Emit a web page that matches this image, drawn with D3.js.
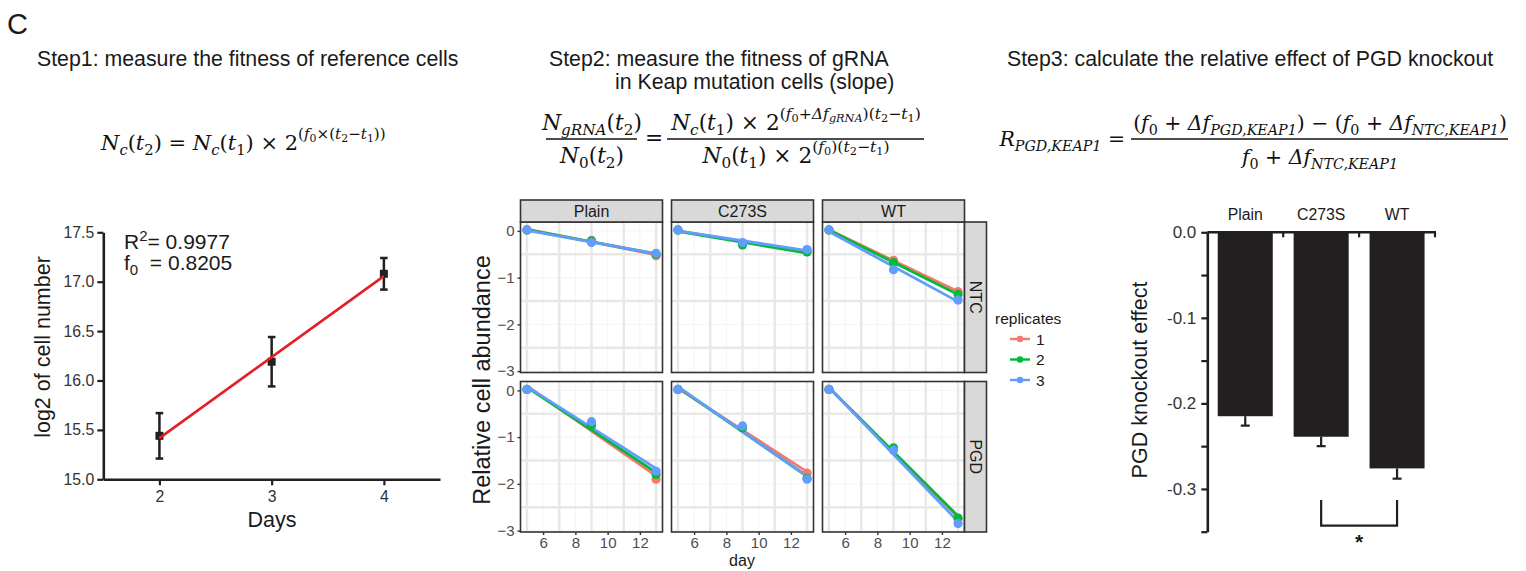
<!DOCTYPE html>
<html>
<head>
<meta charset="utf-8">
<script src="https://d3js.org/d3.v7.min.js"></script>
<style>
  body { margin: 0; background: #fff; }
  svg { display: block; }
</style>
</head>
<body>
<div id="fig"></div>
<script>
// ---- data ----
var growthDays = [2, 3, 4];
var growthMean = [15.44, 16.19, 17.08];
var growthErr = [0.23, 0.25, 0.16];

var days = [5, 9, 13];
var variants = ['Plain', 'C273S', 'WT'];
var guides = ['NTC', 'PGD'];
var replicates = ['1', '2', '3'];
// each row = one replicate, values at day 5, 9, 13
var ntcPlain = [[0.02, -0.20, -0.53], [0.02, -0.22, -0.50], [0.02, -0.25, -0.48]];
var ntcC273S = [[0.02, -0.27, -0.43], [0.02, -0.30, -0.45], [0.02, -0.25, -0.40]];
var ntcWT    = [[0.02, -0.63, -1.30], [0.02, -0.68, -1.36], [0.02, -0.83, -1.48]];
var pgdPlain = [[0.02, -0.72, -1.90], [0.02, -0.75, -1.80], [0.02, -0.67, -1.73]];
var pgdC273S = [[0.02, -0.80, -1.77], [0.02, -0.80, -1.88], [0.02, -0.76, -1.90]];
var pgdWT    = [[0.02, -1.25, -2.75], [0.02, -1.23, -2.73], [0.02, -1.28, -2.85]];

var koEffect = [-0.215, -0.239, -0.276];
var koErr = [0.011, 0.011, 0.012];

var abundance = {
  NTC: { Plain: ntcPlain, C273S: ntcC273S, WT: ntcWT },
  PGD: { Plain: pgdPlain, C273S: pgdC273S, WT: pgdWT }
};
var repColors = ['#F8766D', '#00BA38', '#619CFF'];

var SANS = '"Liberation Sans", Arial, sans-serif';
var MATH = '"DejaVu Serif", "Liberation Serif", serif';
var INK = '#231f20';

var svg = d3.select('#fig').append('svg')
  .attr('width', 1526)
  .attr('height', 571);

// ---- simple math text with sub / superscripts ----
var LEVELS = {
  n: { scale: 1, shift: 0 },
  sub: { scale: 0.7, shift: 0.25 },
  sup: { scale: 0.72, shift: -0.5 },
  supsub: { scale: 0.52, shift: -0.38 }
};

function buildMath(x, y, parts, size, anchor) {
  var t = svg.append('text')
    .attr('x', x).attr('y', y)
    .attr('font-family', MATH)
    .attr('font-size', size)
    .attr('fill', '#111')
    .attr('text-anchor', anchor || 'start');
  var cur = 0;
  parts.forEach(function(p) {
    var lv = LEVELS[p.l || 'n'];
    var shift = lv.shift * size;
    t.append('tspan')
      .attr('dy', shift - cur)
      .attr('font-size', size * lv.scale)
      .attr('font-style', p.i ? 'italic' : 'normal')
      .text(p.t.replace(/ /g, '\u00a0'));
    cur = shift;
  });
  return t;
}

function fitSize(parts, width) {
  var t = buildMath(0, 0, parts, 20);
  var w = t.node().getComputedTextLength();
  t.remove();
  return 20 * width / w;
}

function I(t, l) { return { t: t, i: true, l: l }; }
function R(t, l) { return { t: t, i: false, l: l }; }

function fracBar(x1, x2, y) {
  svg.append('line').attr('x1', x1).attr('x2', x2).attr('y1', y).attr('y2', y)
    .attr('stroke', '#111').attr('stroke-width', 1.3);
}

function label(x, y, txt, size, anchor) {
  return svg.append('text').attr('x', x).attr('y', y)
    .attr('font-family', SANS).attr('font-size', size)
    .attr('fill', '#1a1a1a').attr('text-anchor', anchor || 'start')
    .text(txt);
}

// ---- titles ----
label(7, 34, 'C', 29);
label(37, 66, 'Step1: measure the fitness of reference cells', 21.3);
label(549, 66, 'Step2: measure the fitness of gRNA', 21.3);
label(615, 89, 'in Keap mutation cells (slope)', 21.3);
label(1007, 66, 'Step3: calculate the relative effect of PGD knockout', 21.3);

// ---- formulas ----
var f1 = [I('N'), I('c', 'sub'), R('('), I('t'), R('2', 'sub'), R(') = '), I('N'), I('c', 'sub'),
  R('('), I('t'), R('1', 'sub'), R(') × 2'), R('(', 'sup'), I('f', 'sup'), R('0', 'supsub'),
  R('×(', 'sup'), I('t', 'sup'), R('2', 'supsub'), R('−', 'sup'), I('t', 'sup'), R('1', 'supsub'), R('))', 'sup')];
buildMath(101, 150, f1, fitSize(f1, 285));

var f2ln = [I('N'), I('gRNA', 'sub'), R('('), I('t'), R('2', 'sub'), R(')')];
var f2ld = [I('N'), R('0', 'sub'), R('('), I('t'), R('2', 'sub'), R(')')];
var f2rn = [I('N'), I('c', 'sub'), R('('), I('t'), R('1', 'sub'), R(') × 2'), R('(', 'sup'), I('f', 'sup'),
  R('0', 'supsub'), R('+', 'sup'), I('Δf', 'sup'), I('gRNA', 'supsub'), R(')(', 'sup'), I('t', 'sup'),
  R('2', 'supsub'), R('−', 'sup'), I('t', 'sup'), R('1', 'supsub'), R(')', 'sup')];
var f2rd = [I('N'), R('0', 'sub'), R('('), I('t'), R('1', 'sub'), R(') × 2'), R('(', 'sup'), I('f', 'sup'),
  R('0', 'supsub'), R(')(', 'sup'), I('t', 'sup'), R('2', 'supsub'), R('−', 'sup'), I('t', 'sup'),
  R('1', 'supsub'), R(')', 'sup')];
var s2 = fitSize(f2rn, 250);
buildMath(592, 130, f2ln, s2, 'middle');
buildMath(592, 163, f2ld, s2, 'middle');
fracBar(546, 637, 139);
buildMath(654, 145, [R('=')], s2, 'middle');
buildMath(796, 130, f2rn, s2, 'middle');
buildMath(796, 163, f2rd, s2, 'middle');
fracBar(667, 924, 139);

var f3l = [I('R'), I('PGD,KEAP1', 'sub'), R(' =')];
var f3n = [R('('), I('f'), R('0', 'sub'), R(' + '), I('Δf'), I('PGD,KEAP1', 'sub'), R(') − ('), I('f'),
  R('0', 'sub'), R(' + '), I('Δf'), I('NTC,KEAP1', 'sub'), R(')')];
var f3d = [I('f'), R('0', 'sub'), R(' + '), I('Δf'), I('NTC,KEAP1', 'sub')];
var s3 = fitSize(f3n, 374);
buildMath(1125, 146, f3l, s3, 'end');
buildMath(1320, 130, f3n, s3, 'middle');
buildMath(1320, 164, f3d, s3, 'middle');
fracBar(1131, 1508, 139);

// ---- panel 1: growth of reference cells ----
(function() {
  var x = d3.scaleLinear().domain([1.5, 4.5]).range([103.3, 440]);
  var y = d3.scaleLinear().domain([15, 17.5]).range([479.3, 232.3]);
  var g = svg.append('g');

  var yAxis = g.append('g').attr('transform', 'translate(' + x.range()[0] + ',0)')
    .call(d3.axisLeft(y).tickValues([15, 15.5, 16, 16.5, 17, 17.5]).tickFormat(d3.format('.1f'))
      .tickSize(6).tickSizeOuter(0).tickPadding(3));
  var xAxis = g.append('g').attr('transform', 'translate(0,' + y.range()[0] + ')')
    .call(d3.axisBottom(x).tickValues(growthDays).tickFormat(d3.format('d'))
      .tickSize(6).tickSizeOuter(0).tickPadding(5));
  [yAxis, xAxis].forEach(function(a) {
    a.select('.domain').attr('stroke', INK).attr('stroke-width', 2.6);
    a.selectAll('.tick line').attr('stroke', INK).attr('stroke-width', 2.2);
    a.selectAll('.tick text').attr('font-family', SANS).attr('font-size', 15.8).attr('fill', '#333');
  });

  // least-squares fit through means
  var mx = d3.mean(growthDays), my = d3.mean(growthMean);
  var slope = d3.sum(growthDays, function(d, i) { return (d - mx) * (growthMean[i] - my); }) /
    d3.sum(growthDays, function(d) { return (d - mx) * (d - mx); });
  var icpt = my - slope * mx;

  var pts = growthDays.map(function(d, i) { return { d: d, m: growthMean[i], e: growthErr[i] }; });
  var eb = g.selectAll('.eb').data(pts).enter().append('g');
  eb.append('line').attr('x1', function(p) { return x(p.d); }).attr('x2', function(p) { return x(p.d); })
    .attr('y1', function(p) { return y(p.m - p.e); }).attr('y2', function(p) { return y(p.m + p.e); })
    .attr('stroke', INK).attr('stroke-width', 2.5);
  [-1, 1].forEach(function(s) {
    eb.append('line').attr('x1', function(p) { return x(p.d) - 3.8; }).attr('x2', function(p) { return x(p.d) + 3.8; })
      .attr('y1', function(p) { return y(p.m + s * p.e); }).attr('y2', function(p) { return y(p.m + s * p.e); })
      .attr('stroke', INK).attr('stroke-width', 2.5);
  });
  eb.append('rect').attr('x', function(p) { return x(p.d) - 4; }).attr('y', function(p) { return y(p.m) - 4; })
    .attr('width', 8).attr('height', 8).attr('fill', INK);

  g.append('line')
    .attr('x1', x(2)).attr('y1', y(icpt + slope * 2))
    .attr('x2', x(4)).attr('y2', y(icpt + slope * 4))
    .attr('stroke', '#e31e24').attr('stroke-width', 2.6);

  var t1 = g.append('text').attr('x', 124).attr('y', 249).attr('font-family', SANS).attr('font-size', 21).attr('fill', '#1a1a1a');
  t1.append('tspan').text('R');
  t1.append('tspan').attr('dy', -8).attr('font-size', 15).text('2');
  t1.append('tspan').attr('dy', 8).text('= 0.9977');
  var t2 = g.append('text').attr('x', 124).attr('y', 270).attr('font-family', SANS).attr('font-size', 21).attr('fill', '#1a1a1a');
  t2.append('tspan').text('f');
  t2.append('tspan').attr('dy', 5).attr('font-size', 15).text('0');
  t2.append('tspan').attr('dy', -5).text('\u00a0 = 0.8205');

  label(272, 527, 'Days', 21.5, 'middle');
  label(0, 0, 'log2 of cell number', 21.5, 'middle')
    .attr('transform', 'translate(50,347) rotate(-90)');
})();

// ---- panel 2: faceted relative abundance ----
(function() {
  var pw = 142, ph = 150.5;
  var colX = function(c) { return 520.5 + c * 151; };
  var rowY = function(r) { return 222 + r * 159.5; };
  var x = d3.scaleLinear().domain([4.6, 13.4]).range([0, pw]);
  var y = d3.scaleLinear().domain([-3.03, 0.19]).range([ph, 0]);
  var fmt = function(d) { return d3.format('d')(d).replace('-', '\u2212'); };

  guides.forEach(function(guide, r) {
    variants.forEach(function(variant, c) {
      var g = svg.append('g').attr('transform', 'translate(' + colX(c) + ',' + rowY(r) + ')');
      g.append('rect').attr('width', pw).attr('height', ph).attr('fill', '#fff');
      // grid
      [6, 8, 10, 12].forEach(function(v) {
        g.append('line').attr('x1', x(v)).attr('x2', x(v)).attr('y1', 0).attr('y2', ph)
          .attr('stroke', '#f4f4f4').attr('stroke-width', 1);
      });
      [0, -1, -2, -3].forEach(function(v) {
        g.append('line').attr('y1', y(v)).attr('y2', y(v)).attr('x1', 0).attr('x2', pw)
          .attr('stroke', '#f4f4f4').attr('stroke-width', 1);
      });
      [5, 7, 9, 11, 13].forEach(function(v) {
        g.append('line').attr('x1', x(v)).attr('x2', x(v)).attr('y1', 0).attr('y2', ph)
          .attr('stroke', '#e8e8e8').attr('stroke-width', 2.5);
      });
      [-0.5, -1.5, -2.5].forEach(function(v) {
        g.append('line').attr('y1', y(v)).attr('y2', y(v)).attr('x1', 0).attr('x2', pw)
          .attr('stroke', '#e8e8e8').attr('stroke-width', 2.5);
      });

      var reps = abundance[guide][variant];
      reps.forEach(function(vals, k) {
        var mx = d3.mean(days), my = d3.mean(vals);
        var slope = d3.sum(days, function(d, i) { return (d - mx) * (vals[i] - my); }) /
          d3.sum(days, function(d) { return (d - mx) * (d - mx); });
        var icpt = my - slope * mx;
        g.append('line')
          .attr('x1', x(days[0])).attr('y1', y(icpt + slope * days[0]))
          .attr('x2', x(days[2])).attr('y2', y(icpt + slope * days[2]))
          .attr('stroke', repColors[k]).attr('stroke-width', 2.8);
      });
      reps.forEach(function(vals, k) {
        g.selectAll('.p' + k).data(vals).enter().append('circle')
          .attr('cx', function(v, i) { return x(days[i]); })
          .attr('cy', function(v) { return y(v); })
          .attr('r', 4.6)
          .attr('fill', repColors[k]);
      });
      g.append('rect').attr('width', pw).attr('height', ph).attr('fill', 'none')
        .attr('stroke', '#333').attr('stroke-width', 1.6);

      if (c === 0) {
        var ya = g.append('g').call(d3.axisLeft(y).tickValues([0, -1, -2, -3]).tickFormat(fmt)
          .tickSize(3).tickSizeOuter(0).tickPadding(3));
        ya.select('.domain').remove();
        ya.selectAll('.tick line').attr('stroke', '#333').attr('stroke-width', 1.4);
        ya.selectAll('.tick text').attr('font-family', SANS).attr('font-size', 15).attr('fill', '#4d4d4d');
      }
      if (r === 1) {
        var xa = g.append('g').attr('transform', 'translate(0,' + ph + ')')
          .call(d3.axisBottom(x).tickValues([6, 8, 10, 12]).tickFormat(d3.format('d'))
            .tickSize(3).tickSizeOuter(0).tickPadding(2));
        xa.select('.domain').remove();
        xa.selectAll('.tick line').attr('stroke', '#333').attr('stroke-width', 1.4);
        xa.selectAll('.tick text').attr('font-family', SANS).attr('font-size', 15).attr('fill', '#4d4d4d');
      }
      if (r === 0) {
        g.append('rect').attr('y', -22).attr('width', pw).attr('height', 22)
          .attr('fill', '#d9d9d9').attr('stroke', '#333').attr('stroke-width', 1.6);
        g.append('text').attr('x', pw / 2).attr('y', -5.5).attr('text-anchor', 'middle')
          .attr('font-family', SANS).attr('font-size', 16).attr('fill', '#1a1a1a').text(variant);
      }
      if (c === 2) {
        g.append('rect').attr('x', pw).attr('width', 22).attr('height', ph)
          .attr('fill', '#d9d9d9').attr('stroke', '#333').attr('stroke-width', 1.6);
        g.append('text').attr('text-anchor', 'middle')
          .attr('transform', 'translate(' + (pw + 5.5) + ',' + (ph / 2) + ') rotate(90)')
          .attr('font-family', SANS).attr('font-size', 16).attr('fill', '#1a1a1a').text(guide);
      }
    });
  });

  label(742, 566, 'day', 16, 'middle');
  label(0, 0, 'Relative cell abundance', 23.5, 'middle')
    .attr('transform', 'translate(490,380) rotate(-90)');

  // legend
  label(995, 324, 'replicates', 15.5);
  replicates.forEach(function(rep, k) {
    var ly = 339 + k * 20.5;
    svg.append('line').attr('x1', 1010).attr('x2', 1030).attr('y1', ly).attr('y2', ly)
      .attr('stroke', repColors[k]).attr('stroke-width', 2.4);
    svg.append('circle').attr('cx', 1020).attr('cy', ly).attr('r', 3.3).attr('fill', repColors[k]);
    label(1036, ly + 5.5, rep, 15.5);
  });
})();

// ---- panel 3: PGD knockout effect ----
(function() {
  var x = d3.scaleBand().domain(variants).range([1207.3, 1435]).paddingInner(0.275).paddingOuter(0.1375);
  var y = d3.scaleLinear().domain([-0.35, 0]).range([531.7, 232.3]);
  var g = svg.append('g');

  var bars = variants.map(function(v, i) { return { v: v, e: koEffect[i], s: koErr[i] }; });
  g.selectAll('.bar').data(bars).enter().append('rect')
    .attr('x', function(b) { return x(b.v); })
    .attr('width', x.bandwidth())
    .attr('y', y(0))
    .attr('height', function(b) { return y(b.e) - y(0); })
    .attr('fill', INK);
  g.selectAll('.err').data(bars).enter().append('line')
    .attr('x1', function(b) { return x(b.v) + x.bandwidth() / 2; })
    .attr('x2', function(b) { return x(b.v) + x.bandwidth() / 2; })
    .attr('y1', function(b) { return y(b.e); })
    .attr('y2', function(b) { return y(b.e - b.s); })
    .attr('stroke', INK).attr('stroke-width', 2.2);
  g.selectAll('.cap').data(bars).enter().append('line')
    .attr('x1', function(b) { return x(b.v) + x.bandwidth() / 2 - 4.5; })
    .attr('x2', function(b) { return x(b.v) + x.bandwidth() / 2 + 4.5; })
    .attr('y1', function(b) { return y(b.e - b.s); })
    .attr('y2', function(b) { return y(b.e - b.s); })
    .attr('stroke', INK).attr('stroke-width', 2.2);

  var ya = g.append('g').attr('transform', 'translate(1207.3,0)')
    .call(d3.axisLeft(y).tickValues([0, -0.05, -0.1, -0.15, -0.2, -0.25, -0.3, -0.35])
      .tickFormat(function(d) {
        var s = Math.round(d * 100);
        return s % 10 === 0 ? d3.format('.1f')(d).replace('\u2212', '-') : '';
      })
      .tickSize(6).tickSizeOuter(0).tickPadding(5));
  ya.select('.domain').attr('stroke', INK).attr('stroke-width', 2.6);
  ya.selectAll('.tick line').attr('stroke', INK).attr('stroke-width', 2.2);
  ya.selectAll('.tick text').attr('font-family', SANS).attr('font-size', 17).attr('fill', '#333');

  // top axis line with boundary ticks pointing inwards
  g.append('line').attr('x1', 1207.3).attr('x2', 1436).attr('y1', y(0)).attr('y2', y(0))
    .attr('stroke', INK).attr('stroke-width', 2.6);
  variants.forEach(function(v) {
    var bx = x(v) + x.bandwidth() + x.step() * x.paddingInner() / 2;
    g.append('line').attr('x1', bx).attr('x2', bx).attr('y1', y(0)).attr('y2', y(0) + 5)
      .attr('stroke', INK).attr('stroke-width', 2.2);
    label(x(v) + x.bandwidth() / 2, 220, v, 15.8, 'middle');
  });

  // significance bracket
  var c1 = x('C273S') + x.bandwidth() / 2, c2 = x('WT') + x.bandwidth() / 2;
  g.append('path')
    .attr('d', 'M' + c1 + ',500V525.7H' + c2 + 'V500')
    .attr('fill', 'none').attr('stroke', INK).attr('stroke-width', 2.2);
  label((c1 + c2) / 2, 549, '*', 21, 'middle').attr('font-weight', 'bold');

  label(0, 0, 'PGD knockout effect', 21.5, 'middle')
    .attr('transform', 'translate(1147,380) rotate(-90)');
})();
</script>
</body>
</html>
